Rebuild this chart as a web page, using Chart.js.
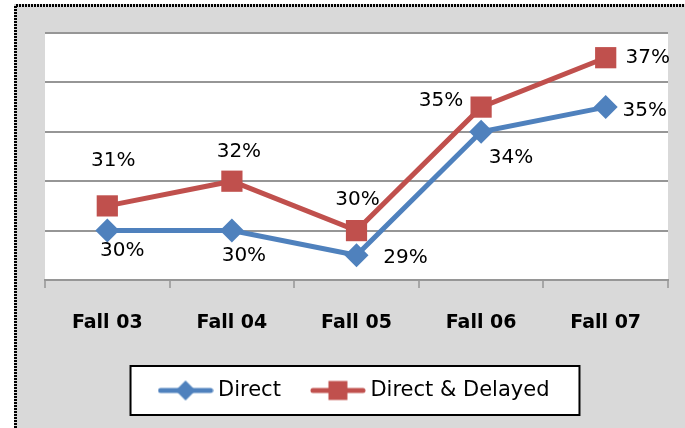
<!DOCTYPE html>
<html><head><meta charset="utf-8">
<script src="https://cdn.jsdelivr.net/npm/chart.js@4/dist/chart.umd.min.js"></script>
<style>html,body{margin:0;padding:0;background:#fff}#wrap{width:685px;height:428px;position:relative}</style>
</head><body><div id="wrap"><canvas id="c" width="685" height="428"></canvas></div>
<script>
const categories = ['Fall 03', 'Fall 04', 'Fall 05', 'Fall 06', 'Fall 07'];
const directValues = [30, 30, 29, 34, 35];
const delayedValues = [31, 32, 30, 35, 37];
const seriesNames = ['Direct', 'Direct & Delayed'];
const yTicks = [28, 30, 32, 34, 36, 38];

const BLUE = '#4F81BD', RED = '#C0504D', GRID = '#969696';
// label placement (text centre relative to point), per series
const labelOffsets = [
  [[15, 20], [12, 25], [49, 2], [30, 26], [39, 4]],
  [[6, -45], [7, -29], [1, -31], [-40, -6], [42, 0]]
];

function legendIcon(color, shape) {
  const c = document.createElement('canvas');
  c.width = 56; c.height = 24;
  const g = c.getContext('2d');
  g.strokeStyle = color; g.lineWidth = 5; g.lineCap = 'round';
  g.beginPath(); g.moveTo(3, 12); g.lineTo(53, 12); g.stroke();
  g.fillStyle = color;
  g.beginPath();
  if (shape === 'diamond') { g.moveTo(28, 2); g.lineTo(38, 12); g.lineTo(28, 22); g.lineTo(18, 12); g.closePath(); }
  else { g.rect(18.5, 2.5, 19, 19); }
  g.fill();
  return c;
}
const icons = [legendIcon(BLUE, 'diamond'), legendIcon(RED, 'square')];

const bgPlugin = {
  id: 'bg',
  beforeDraw(chart) {
    const ctx = chart.ctx, a = chart.chartArea;
    ctx.save();
    ctx.fillStyle = '#ffffff'; ctx.fillRect(0, 0, chart.width, chart.height);
    ctx.fillStyle = '#d9d9d9'; ctx.fillRect(14, 4, chart.width - 14, chart.height - 4);
    ctx.strokeStyle = '#000'; ctx.lineWidth = 3; ctx.setLineDash([2, 1]);
    ctx.beginPath(); ctx.moveTo(15.5, 428); ctx.lineTo(15.5, 5.5); ctx.lineTo(685, 5.5); ctx.stroke();
    ctx.setLineDash([]);
    ctx.fillStyle = '#ffffff'; ctx.fillRect(a.left, a.top, a.right - a.left, a.bottom - a.top);
    const hb = chart.legend && chart.legend.legendHitBoxes;
    if (hb && hb.length) {
      const l = Math.min(...hb.map(h => h.left)) - 33;
      const r = Math.max(...hb.map(h => h.left + h.width)) + 30;
      const cy = hb[0].top + hb[0].height / 2;
      ctx.fillStyle = '#fff'; ctx.fillRect(l, cy - 24.5, r - l, 49);
      ctx.strokeStyle = '#000'; ctx.lineWidth = 2; ctx.strokeRect(l, cy - 24.5, r - l, 49);
    }
    ctx.restore();
  }
};

const labelPlugin = {
  id: 'vals',
  afterDatasetsDraw(chart) {
    const ctx = chart.ctx;
    ctx.save();
    ctx.font = '20px "DejaVu Sans"';
    ctx.fillStyle = '#000'; ctx.textAlign = 'center'; ctx.textBaseline = 'middle';
    chart.data.datasets.forEach((ds, di) => {
      const meta = chart.getDatasetMeta(di);
      meta.data.forEach((pt, i) => {
        const o = labelOffsets[di][i];
        ctx.fillText(Math.round(ds.data[i]) + '%', pt.x + o[0], pt.y + o[1]);
      });
    });
    ctx.restore();
  }
};

new Chart(document.getElementById('c'), {
  type: 'line',
  data: {
    labels: categories,
    datasets: [
      { label: seriesNames[0], data: directValues, borderColor: BLUE, backgroundColor: BLUE, borderWidth: 5,
        pointStyle: 'rectRot', pointRadius: 12, pointBorderWidth: 0, pointBackgroundColor: BLUE, order: 1, tension: 0 },
      { label: seriesNames[1], data: delayedValues, borderColor: RED, backgroundColor: RED, borderWidth: 5,
        pointStyle: 'rect', pointRadius: 15, pointBorderWidth: 0, pointBackgroundColor: RED, order: 0, tension: 0 }
    ]
  },
  options: {
    responsive: false, animation: false, devicePixelRatio: 1,
    layout: { padding: { left: 45, right: 17, top: 33, bottom: 17 } },
    plugins: {
      tooltip: { enabled: false },
      legend: {
        position: 'bottom', fullSize: false,
        labels: {
          usePointStyle: true, pointStyleWidth: 44, boxHeight: 21, padding: 35,
          font: { family: 'DejaVu Sans', size: 21 }, color: '#000',
          generateLabels: () => seriesNames.map((n, i) => ({ text: n, pointStyle: icons[i], fillStyle: i ? RED : BLUE,
            strokeStyle: 'transparent', lineWidth: 0, hidden: false, datasetIndex: i, fontColor: '#000' }))
        }
      }
    },
    scales: {
      x: {
        offset: true,
        grid: { offset: true, drawOnChartArea: false, drawTicks: true, tickLength: 8, color: '#a6a6a6', lineWidth: 2 },
        border: { display: true, color: GRID, width: 2 },
        ticks: { padding: 24, color: '#000', font: { family: 'DejaVu Sans', size: 19, weight: 'bold' } },
        afterFit(s) { s.height = 65; }
      },
      y: {
        min: 28, max: 38,
        afterBuildTicks(s) { s.ticks = yTicks.map(v => ({ value: v })); },
        grid: { color: GRID, lineWidth: 2, drawTicks: false },
        border: { display: false },
        ticks: { display: false },
        afterFit(s) { s.width = 0; }
      }
    }
  },
  plugins: [bgPlugin, labelPlugin]
});
</script></body></html>
